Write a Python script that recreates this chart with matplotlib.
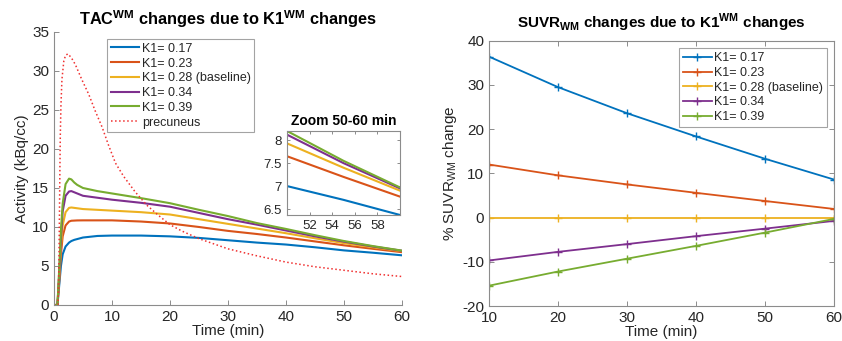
import matplotlib
matplotlib.use("Agg")
import matplotlib.pyplot as plt

plt.rcParams['font.family'] = ['Liberation Sans', 'DejaVu Sans']
plt.rcParams['mathtext.fontset'] = 'custom'
plt.rcParams['mathtext.rm'] = 'Liberation Sans'
plt.rcParams['mathtext.bf'] = 'Liberation Sans:bold'
plt.rcParams['axes.unicode_minus'] = False

# TAC curves (kBq/cc)
t_tac = [0, 0.6, 0.9, 1.2, 1.5, 2.0, 2.6, 3.0, 3.5, 4.0, 5, 7.5, 10, 15, 20, 25, 30, 35, 40, 45, 50, 55, 60]
tac_017 = [0, 0, 2.5, 5.0, 6.5, 7.5, 8.0, 8.2, 8.35, 8.45, 8.65, 8.85, 8.9, 8.9, 8.8, 8.6, 8.3, 8.0, 7.75, 7.4, 7.0, 6.7, 6.37]
tac_023 = [0, 0, 3.0, 6.5, 8.8, 10.2, 10.7, 10.8, 10.82, 10.84, 10.85, 10.85, 10.85, 10.7, 10.45, 10.0, 9.5, 9.1, 8.65, 8.15, 7.65, 7.2, 6.77]
tac_028 = [0, 0, 3.5, 7.5, 10.2, 11.9, 12.45, 12.5, 12.45, 12.4, 12.3, 12.2, 12.1, 11.9, 11.6, 11.0, 10.4, 9.8, 9.2, 8.55, 7.93, 7.4, 6.9]
tac_034 = [0, 0, 4.0, 8.5, 12.0, 14.0, 14.55, 14.6, 14.45, 14.3, 14.0, 13.75, 13.5, 13.1, 12.6, 11.8, 11.0, 10.3, 9.55, 8.8, 8.12, 7.5, 6.95]
tac_039 = [0, 0, 4.5, 9.5, 13.0, 15.5, 16.2, 16.1, 15.7, 15.4, 15.0, 14.6, 14.3, 13.7, 13.05, 12.2, 11.4, 10.5, 9.75, 8.95, 8.2, 7.55, 6.97]

t_prec = [0, 0.7, 0.85, 0.95, 1.03, 1.09, 1.2, 1.37, 1.7, 2.0, 2.4, 3.0, 3.7, 4.8, 6.0, 7.1, 8.3, 9.4, 10.6,
          12, 13, 14, 16, 18, 20, 22, 25, 30, 35, 40, 45, 50, 55, 60]
precuneus = [0, 0, 5, 12, 17.9, 21.7, 25.5, 28.9, 31.3, 32.0, 32.2, 31.7, 30.8, 28.9, 27.0, 24.9, 22.8, 20.5, 18.2,
             16.5, 15.5, 14.5, 12.8, 11.5, 10.3, 9.5, 8.5, 7.2, 6.3, 5.5, 4.9, 4.45, 4.0, 3.65]

# % SUVR change, right panel
t_suvr = [10, 20, 30, 40, 50, 60]
suvr_017 = [36.4, 29.5, 23.6, 18.35, 13.3, 8.6]
suvr_023 = [12.0, 9.55, 7.5, 5.6, 3.75, 1.95]
suvr_028 = [0, 0, 0, 0, 0, 0]
suvr_034 = [-9.7, -7.75, -6.0, -4.2, -2.5, -0.75]
suvr_039 = [-15.4, -12.2, -9.3, -6.4, -3.4, -0.3]

labels = ["K1= 0.17", "K1= 0.23", "K1= 0.28 (baseline)", "K1= 0.34", "K1= 0.39"]
colors = ["#0072BD", "#D95319", "#EDB120", "#7E2F8E", "#77AC30"]
tacs = [tac_017, tac_023, tac_028, tac_034, tac_039]
suvrs = [suvr_017, suvr_023, suvr_028, suvr_034, suvr_039]

txt = "#262626"
spine = "#8c8c8c"


def style(ax, box=True):
    for s in ax.spines.values():
        s.set_color(spine)
        s.set_linewidth(0.8)
    if not box:
        ax.spines['top'].set_visible(False)
        ax.spines['right'].set_visible(False)
    ax.tick_params(direction='in', length=3.5, width=0.7, color=spine,
                   labelcolor=txt, top=box, right=box)


fig = plt.figure(figsize=(8.42, 3.41), dpi=100)

# left panel
ax1 = fig.add_axes([0.0641, 0.1056, 0.4133, 0.8006])
for y, c, l in zip(tacs, colors, labels):
    ax1.plot(t_tac, y, color=c, lw=1.5, label=l)
ax1.plot(t_prec, precuneus, color='#f03030', lw=1.1, ls=':', label='precuneus')
ax1.set_xlim(0, 60)
ax1.set_ylim(0, 35)
ax1.set_xticks(range(0, 61, 10))
ax1.set_yticks(range(0, 36, 5))
style(ax1, box=False)
ax1.tick_params(labelsize=11)
ax1.set_xlabel("Time (min)", fontsize=11, color=txt, labelpad=0)
ax1.set_ylabel("Activity (kBq/cc)", fontsize=11, color=txt, labelpad=2)
ax1.set_title(r"TAC$^{\mathbf{WM}}$ changes due to K1$^{\mathbf{WM}}$ changes",
              fontsize=11.8, fontweight='bold', color='black', pad=5)
leg1 = ax1.legend(loc='upper left', bbox_to_anchor=(0.152, 0.974), borderaxespad=0,
                  fontsize=9, frameon=True, fancybox=False, handlelength=2.3,
                  handletextpad=0.2, labelspacing=0.22, borderpad=0.3)
leg1.get_frame().set_edgecolor(spine)
leg1.get_frame().set_linewidth(0.8)
for tx in leg1.get_texts():
    tx.set_color(txt)

# inset
axi = fig.add_axes([0.3409, 0.3695, 0.1342, 0.2463])
for y, c in zip(tacs, colors):
    axi.plot(t_tac, y, color=c, lw=1.5)
axi.set_xlim(50, 60)
axi.set_ylim(6.37, 8.2)
axi.set_xticks([52, 54, 56, 58])
axi.set_yticks([6.5, 7, 7.5, 8])
axi.set_yticklabels(["6.5", "7", "7.5", "8"])
style(axi, box=True)
axi.tick_params(labelsize=9.5, length=2.5)
axi.set_title("Zoom 50-60 min", fontsize=10, fontweight='bold', color='black', pad=4)

# right panel
ax2 = fig.add_axes([0.5808, 0.1026, 0.4097, 0.778])
for y, c, l in zip(suvrs, colors, labels):
    ax2.plot(t_suvr, y, color=c, lw=1.3, marker='+', ms=6, mew=1.0, label=l)
ax2.set_xlim(10, 60)
ax2.set_ylim(-20, 40)
ax2.set_xticks(range(10, 61, 10))
ax2.set_yticks(range(-20, 41, 10))
style(ax2, box=True)
ax2.tick_params(labelsize=11)
ax2.set_xlabel("Time (min)", fontsize=11, color=txt, labelpad=0)
ax2.set_ylabel(r"% SUVR$_{\mathrm{WM}}$ change", fontsize=11, color=txt, labelpad=2)
ax2.set_title(r"SUVR$_{\mathbf{WM}}$ changes due to K1$^{\mathbf{WM}}$ changes",
              fontsize=11, fontweight='bold', color='black', pad=9)
leg2 = ax2.legend(loc='upper right', bbox_to_anchor=(0.979, 0.971), borderaxespad=0,
                  fontsize=9, frameon=True, fancybox=False, handlelength=2.3,
                  handletextpad=0.2, labelspacing=0.22, borderpad=0.3)
leg2.get_frame().set_edgecolor(spine)
leg2.get_frame().set_linewidth(0.8)
for tx in leg2.get_texts():
    tx.set_color(txt)

fig.savefig("out.png", dpi=100)
